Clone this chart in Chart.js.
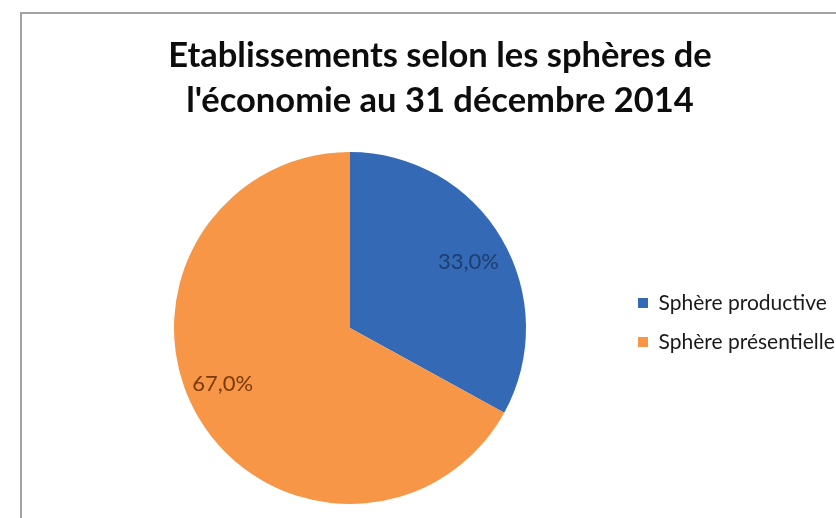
<!DOCTYPE html>
<html><head><meta charset="utf-8">
<script src="https://cdn.jsdelivr.net/npm/chart.js@4/dist/chart.umd.min.js"></script>
<style>html,body{margin:0;padding:0;background:#fff;overflow:hidden}canvas{display:block}</style>
</head><body>
<canvas id="c" width="836" height="518"></canvas>
<script>
const categories = ['Sphère productive', 'Sphère présentielle'];
const shares = [33.0, 67.0];
const titleLines = ["Etablissements selon les sphères de", "l'économie au 31 décembre 2014"];
const sliceColors = ['#3469b5', '#f79646'];
const valueLabelColors = ['#1f3d6e', '#7a3a0a'];

const framePlugin = {
  id: 'frame',
  beforeDraw(chart) {
    const ctx = chart.ctx;
    ctx.save();
    ctx.fillStyle = '#ffffff';
    ctx.fillRect(0, 0, chart.width, chart.height);
    ctx.strokeStyle = '#a3a3a3';
    ctx.lineWidth = 2;
    ctx.strokeRect(21, 13, 1000, 1000);
    ctx.restore();
  }
};

// The original chart was wider than the visible crop: re-centre the title
// on the original chart width and nudge the legend block vertically.
const nudgePlugin = {
  id: 'nudge',
  afterLayout(chart, args, opts) {
    const t = chart.titleBlock;
    if (t) {
      const w = t.right - t.left;
      t.left = opts.titleCenter - w / 2;
      t.right = opts.titleCenter + w / 2;
    }
    const l = chart.legend;
    if (l) {
      l.top += opts.legendDy;
      l.bottom += opts.legendDy;
    }
  }
};

const sliceLabelPlugin = {
  id: 'sliceLabels',
  afterDatasetsDraw(chart, args, opts) {
    const meta = chart.getDatasetMeta(0);
    const values = chart.data.datasets[0].data;
    const ctx = chart.ctx;
    ctx.save();
    ctx.font = opts.font;
    ctx.textAlign = 'center';
    ctx.textBaseline = 'middle';
    meta.data.forEach((arc, i) => {
      const p = arc.getProps(['x', 'y', 'startAngle', 'endAngle', 'outerRadius'], true);
      const a = (p.startAngle + p.endAngle) / 2 + opts.angleOffset[i] * Math.PI / 180;
      const r = p.outerRadius * opts.radiusRatio[i];
      ctx.fillStyle = opts.colors[i];
      ctx.fillText(values[i].toFixed(1).replace('.', ',') + '%', p.x + r * Math.cos(a), p.y + r * Math.sin(a));
    });
    ctx.restore();
  }
};

new Chart(document.getElementById('c'), {
  type: 'pie',
  data: {
    labels: categories,
    datasets: [{
      data: shares,
      backgroundColor: sliceColors,
      borderWidth: 0,
      hoverOffset: 0
    }]
  },
  options: {
    responsive: false,
    animation: false,
    layout: { padding: { left: 80, right: 0, top: 0, bottom: 14 } },
    plugins: {
      title: {
        display: true,
        text: titleLines,
        color: '#0d0d0d',
        font: { family: 'Lato', size: 34.5, weight: 'bold', lineHeight: 45 / 34.5 },
        padding: { top: 33, bottom: 29 }
      },
      legend: {
        position: 'right',
        fullSize: false,
        maxWidth: 216,
        labels: {
          boxWidth: 10,
          boxHeight: 10,
          padding: 18,
          color: '#1a1a1a',
          font: { family: 'Lato', size: 21 }
        }
      },
      tooltip: { enabled: false },
      nudge: { titleCenter: 440, legendDy: -5.5 },
      sliceLabels: {
        font: '22px Lato',
        colors: valueLabelColors,
        angleOffset: [1.5, 7],
        radiusRatio: [0.77, 0.79]
      }
    }
  },
  plugins: [framePlugin, nudgePlugin, sliceLabelPlugin]
});
</script>
</body></html>
